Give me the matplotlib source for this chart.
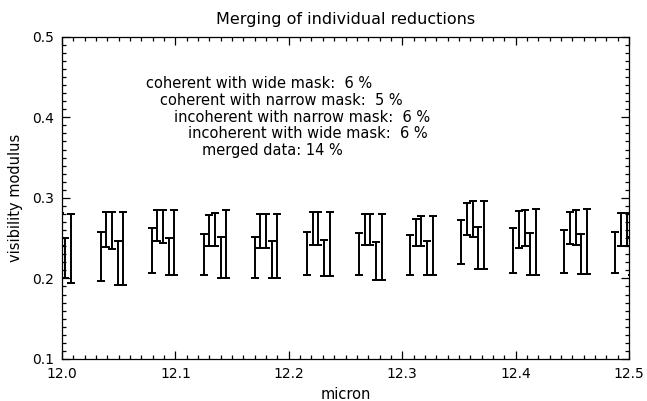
import numpy as np
import matplotlib
matplotlib.use("Agg")
import matplotlib.pyplot as plt
from matplotlib.ticker import MultipleLocator, FormatStrFormatter

# wavelength grid of the spectral channels (micron)
wavelength = [11.998, 12.044, 12.089, 12.135, 12.180, 12.226,
              12.272, 12.317, 12.362, 12.408, 12.453, 12.498]

# lower / upper limits of the visibility for each reduction
cw_lo = [0.205, 0.197, 0.207, 0.204, 0.201, 0.204, 0.204, 0.204, 0.218, 0.207, 0.207, 0.207]
cw_hi = [0.257, 0.257, 0.262, 0.255, 0.252, 0.257, 0.256, 0.254, 0.272, 0.262, 0.260, 0.257]
cn_lo = [0.240, 0.239, 0.246, 0.240, 0.238, 0.241, 0.241, 0.240, 0.254, 0.238, 0.243, 0.240]
cn_hi = [0.280, 0.283, 0.285, 0.279, 0.280, 0.282, 0.280, 0.274, 0.293, 0.284, 0.283, 0.281]
in_lo = [0.240, 0.237, 0.244, 0.240, 0.238, 0.241, 0.241, 0.240, 0.252, 0.240, 0.242, 0.240]
in_hi = [0.281, 0.282, 0.285, 0.281, 0.280, 0.282, 0.280, 0.278, 0.296, 0.285, 0.285, 0.281]
iw_lo = [0.200, 0.192, 0.204, 0.200, 0.201, 0.203, 0.198, 0.204, 0.212, 0.204, 0.205, 0.204]
iw_hi = [0.250, 0.246, 0.250, 0.251, 0.247, 0.248, 0.245, 0.247, 0.264, 0.256, 0.255, 0.252]
mg_lo = [0.194, 0.192, 0.204, 0.200, 0.201, 0.203, 0.198, 0.204, 0.212, 0.204, 0.205, 0.204]
mg_hi = [0.280, 0.283, 0.285, 0.285, 0.280, 0.283, 0.280, 0.278, 0.296, 0.286, 0.286, 0.281]

series = [(cw_lo, cw_hi), (cn_lo, cn_hi), (in_lo, in_hi), (iw_lo, iw_hi), (mg_lo, mg_hi)]
shifts = [-0.010, -0.005, 0.0, 0.005, 0.010]

notes = ["coherent with wide mask:  6 %",
         "coherent with narrow mask:  5 %",
         "incoherent with narrow mask:  6 %",
         "incoherent with wide mask:  6 %",
         "merged data: 14 %"]

plt.rcParams['font.family'] = 'DejaVu Sans'

fig = plt.figure(figsize=(6.47, 4.01), dpi=100)
ax = fig.add_axes([62 / 647, 1 - 359 / 401, 567 / 647, 322.3 / 401])

wl = np.array(wavelength)
for (lo, hi), dx in zip(series, shifts):
    lo = np.array(lo)
    hi = np.array(hi)
    ax.errorbar(wl + dx, (lo + hi) / 2, yerr=(hi - lo) / 2, fmt='none',
                ecolor='black', elinewidth=1.4, capsize=2.8, capthick=1.4)

for i, s in enumerate(notes):
    ax.text(12.074 + 0.0123 * i, 0.4415 - 0.0207 * i, s,
            ha='left', va='center', fontsize=10.5)

ax.set_xlim(12.0, 12.5)
ax.set_ylim(0.1, 0.5)
ax.xaxis.set_major_locator(MultipleLocator(0.1))
ax.xaxis.set_minor_locator(MultipleLocator(0.01))
ax.yaxis.set_major_locator(MultipleLocator(0.1))
ax.yaxis.set_minor_locator(MultipleLocator(0.01))
ax.xaxis.set_major_formatter(FormatStrFormatter('%.1f'))
ax.yaxis.set_major_formatter(FormatStrFormatter('%.1f'))
ax.tick_params(which='both', direction='in', top=True, right=True, width=0.9)
ax.tick_params(which='major', length=6, labelsize=10, pad=6)
ax.tick_params(which='minor', length=3)
for sp in ax.spines.values():
    sp.set_linewidth(0.9)

ax.set_title('Merging of individual reductions', fontsize=11.5, pad=9)
ax.set_xlabel('micron', fontsize=10.5, labelpad=4)
ax.set_ylabel('visibility modulus', fontsize=10.5, labelpad=6)

fig.savefig('out.png', dpi=100)
